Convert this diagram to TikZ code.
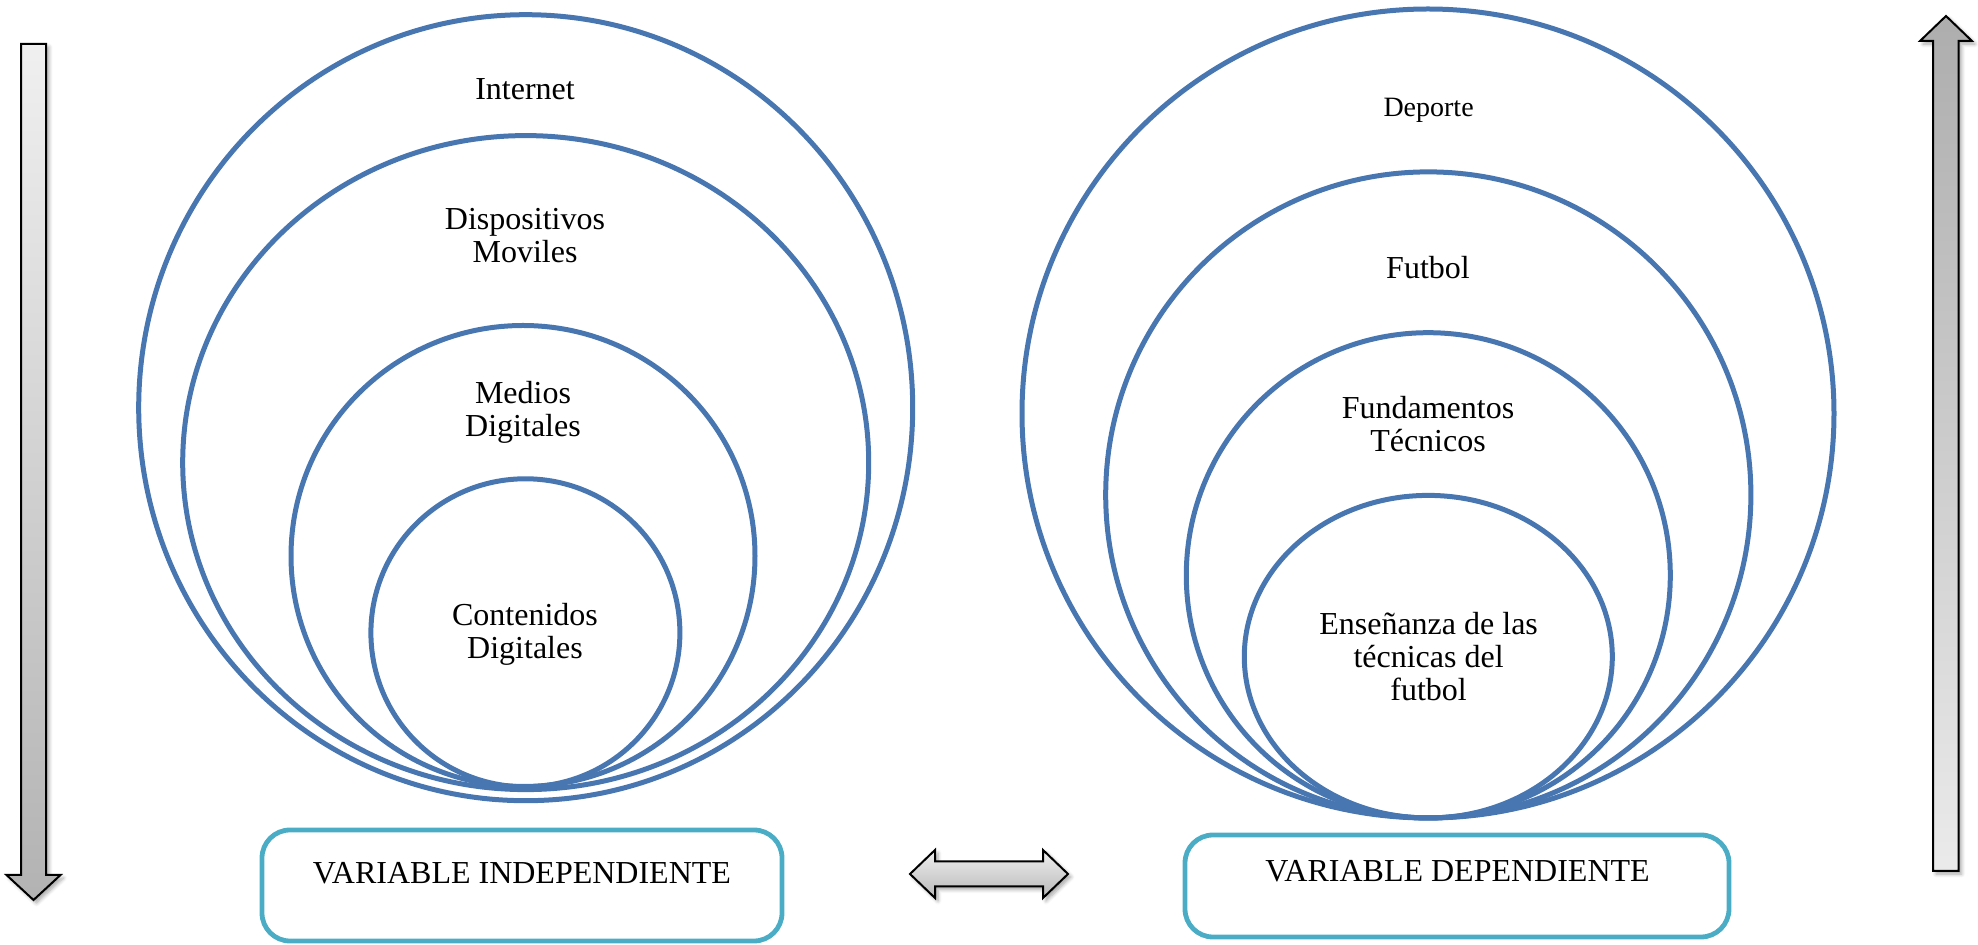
\documentclass[tikz,border=0pt]{standalone}
\usepackage{fontspec}
\setmainfont{Liberation Serif}
\usetikzlibrary{shadows.blur}
\definecolor{ring}{RGB}{72,118,176}
\definecolor{boxc}{RGB}{75,172,198}
\begin{document}
\begin{tikzpicture}[x=0.5pt,y=-0.5pt]
\tikzset{
  ringline/.style={draw=ring, line width=2.5pt},
  lbl/.style={font=\fontsize{16}{16.5}\selectfont, align=center, inner sep=0pt},
  lblsmall/.style={font=\fontsize{14}{16}\selectfont, align=center, inner sep=0pt},
  vbox/.style={draw=boxc, line width=2.4pt, rounded corners=14pt, rectangle, inner sep=0pt},
  blockarrow/.style={draw=black, line width=1pt, line join=miter,
     blur shadow={shadow xshift=1.5pt, shadow yshift=-1.5pt, shadow blur steps=6, shadow opacity=35}}
}
\useasboundingbox (0,0) rectangle (1978,945);

% left nested circles
\draw[ringline] (525.7,407.7) ellipse [x radius=387, y radius=393];
\draw[ringline] (525.7,462.6) ellipse [x radius=343, y radius=327];
\draw[ringline] (523,556) ellipse [x radius=232, y radius=230.5];
\draw[ringline] (525.4,632.8) ellipse [x radius=154.5, y radius=154];

% right nested circles
\draw[ringline] (1428,413.5) ellipse [x radius=406, y radius=404.5];
\draw[ringline] (1428.3,494.9) ellipse [x radius=322.6, y radius=323];
\draw[ringline] (1428.3,575.3) ellipse [x radius=242, y radius=242.6];
\draw[ringline] (1428.3,656.7) ellipse [x radius=184, y radius=161.3];

% left labels
\node[lbl] (internet) at (525,89) {Internet};
\node[lbl] (dispositivos) at (525,236) {Dispositivos\\Moviles};
\node[lbl] (medios) at (523,412) {Medios\\Digitales};
\node[lbl] (contenidos) at (525,634) {Contenidos\\Digitales};

% right labels
\node[lblsmall] (deporte) at (1428.6,110) {Deporte};
\node[lbl] (futbol) at (1428,268) {Futbol};
\node[lbl] (fundamentos) at (1428,424) {Fundamentos\\Técnicos};
\node[lbl] (ensenanza) at (1428.6,657) {Enseñanza de las\\técnicas del\\futbol};

% boxes
\node[vbox, minimum width=260pt, minimum height=55.5pt] (boxind) at (522,885.5) {};
\node[lbl] (tind) at (522,873) {VARIABLE INDEPENDIENTE};
\node[vbox, minimum width=272pt, minimum height=51pt] (boxdep) at (1457,886) {};
\node[lbl] (tdep) at (1457.6,871) {VARIABLE DEPENDIENTE};

% left down arrow
\shadedraw[blockarrow, top color=black!6, bottom color=black!30]
  (21,44) -- (46,44) -- (46,875) -- (60.5,875) -- (33.5,900) -- (6.5,875) -- (21,875) -- cycle;

% right up arrow
\shadedraw[blockarrow, top color=black!32, bottom color=black!8]
  (1933,871) -- (1933,41) -- (1920,41) -- (1946,16) -- (1972,41) -- (1958.5,41) -- (1958.5,871) -- cycle;

% middle double arrow
\shadedraw[blockarrow, top color=black!6, bottom color=black!28]
  (910,874) -- (935,850) -- (935,861.5) -- (1043,861.5) -- (1043,850) -- (1068,874)
  -- (1043,898) -- (1043,886.5) -- (935,886.5) -- (935,898) -- cycle;
\end{tikzpicture}
\end{document}
